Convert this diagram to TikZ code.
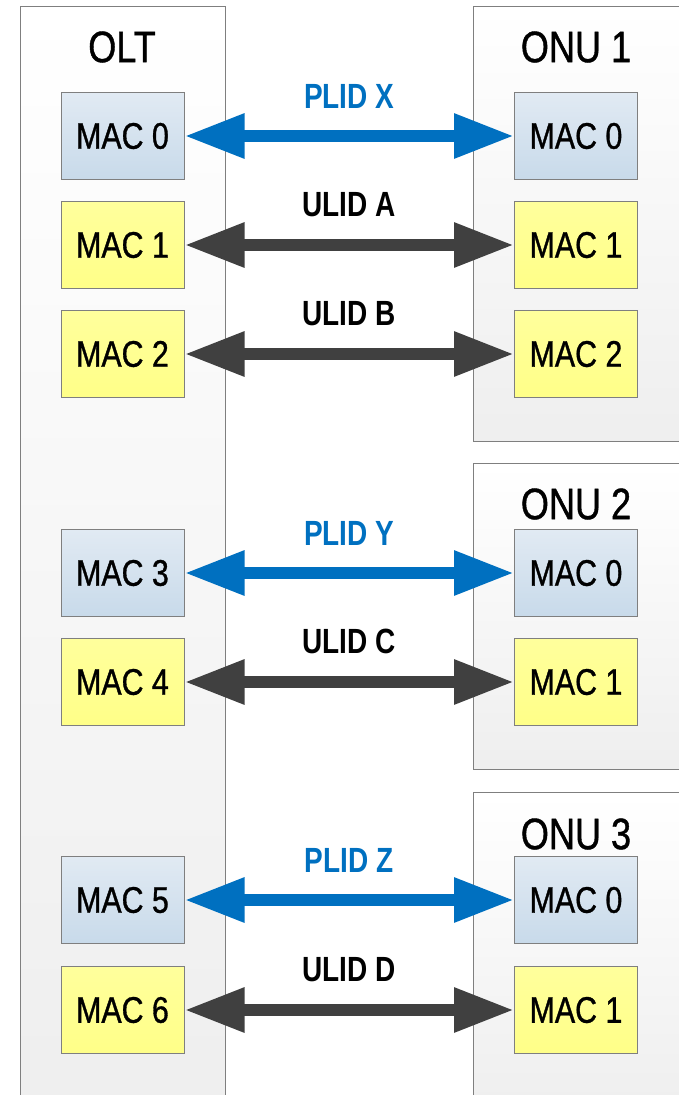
\documentclass[tikz,border=0pt]{standalone}
\usepackage{fontspec}
\setmainfont{Liberation Sans}[FakeStretch=0.82, FakeBold=0.9]
\newfontfamily\lidfont{Liberation Sans Bold}[FakeStretch=0.80]
\usetikzlibrary{arrows.meta, positioning}

\definecolor{plidblue}{HTML}{0070C0}
\definecolor{ulidgray}{HTML}{404040}
\definecolor{boxline}{HTML}{7F7F7F}
\definecolor{mactop}{HTML}{E1EAF3}
\definecolor{macbot}{HTML}{C8DAEA}
\definecolor{ulidtop}{HTML}{FFFF9C}
\definecolor{ulidbot}{HTML}{FFFF88}

\begin{document}
\begin{tikzpicture}[
  x=1pt, y=-1pt,
  unit/.style={draw=boxline, line width=1pt, anchor=north west, inner sep=0pt,
               top color=white, bottom color=gray!13},
  title/.style={font=\fontsize{44}{48}\selectfont, inner sep=0pt},
  pmac/.style={draw=boxline, line width=1pt, minimum width=123pt, minimum height=87pt,
               inner sep=0pt, top color=mactop, bottom color=macbot,
               font=\fontsize{37}{40}\selectfont},
  umac/.style={pmac, top color=ulidtop, bottom color=ulidbot},
  plid/.style={{Triangle[length=60pt,width=42pt]}-{Triangle[length=60pt,width=42pt]},
               line width=12pt, draw=plidblue},
  ulid/.style={plid, draw=ulidgray},
  lid/.style={font=\lidfont\fontsize{35}{38}\selectfont, inner sep=0pt, above=22pt}
]
\useasboundingbox (0,0) rectangle (679,1095);

% containers
\node[unit, minimum width=205pt, minimum height=1100pt] (olt)  at (20,6)  {};
\node[unit, minimum width=220pt, minimum height=435pt]  (onu1) at (473,6)   {};
\node[unit, minimum width=220pt, minimum height=306pt]  (onu2) at (473,463) {};
\node[unit, minimum width=220pt, minimum height=320pt]  (onu3) at (473,792) {};

\node[title] at (122,47)  {OLT};
\node[title] at (576,47)  {ONU 1};
\node[title] at (576,504) {ONU 2};
\node[title] at (576,834) {ONU 3};

% OLT side
\node[pmac] (olt0) at (122.5,136) {MAC 0};
\node[umac] (olt1) at (122.5,245) {MAC 1};
\node[umac] (olt2) at (122.5,354) {MAC 2};
\node[pmac] (olt3) at (122.5,573) {MAC 3};
\node[umac] (olt4) at (122.5,682) {MAC 4};
\node[pmac] (olt5) at (122.5,900) {MAC 5};
\node[umac] (olt6) at (122.5,1010) {MAC 6};

% ONU side
\node[pmac] (a0) at (576,136) {MAC 0};
\node[umac] (a1) at (576,245) {MAC 1};
\node[umac] (a2) at (576,354) {MAC 2};
\node[pmac] (b0) at (576,573) {MAC 0};
\node[umac] (b1) at (576,682) {MAC 1};
\node[pmac] (c0) at (576,900) {MAC 0};
\node[umac] (c1) at (576,1010) {MAC 1};

% links
\draw[plid] (olt0.east) -- node[lid, text=plidblue]{PLID X} (a0.west);
\draw[ulid] (olt1.east) -- node[lid]{ULID A} (a1.west);
\draw[ulid] (olt2.east) -- node[lid]{ULID B} (a2.west);
\draw[plid] (olt3.east) -- node[lid, text=plidblue]{PLID Y} (b0.west);
\draw[ulid] (olt4.east) -- node[lid]{ULID C} (b1.west);
\draw[plid] (olt5.east) -- node[lid, text=plidblue]{PLID Z} (c0.west);
\draw[ulid] (olt6.east) -- node[lid]{ULID D} (c1.west);

\end{tikzpicture}
\end{document}
